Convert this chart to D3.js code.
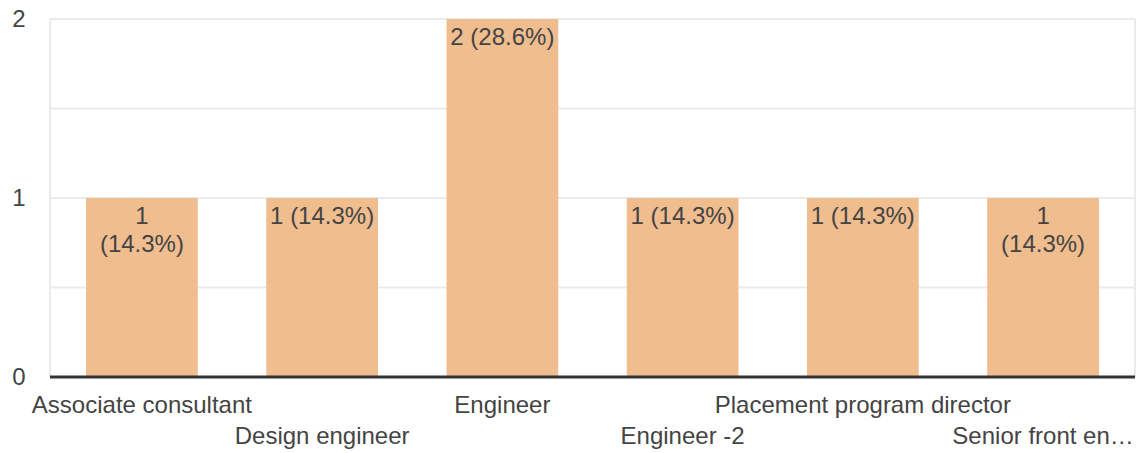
<!DOCTYPE html>
<html>
<head>
<meta charset="utf-8">
<script src="https://cdn.jsdelivr.net/npm/d3@7"></script>
<style>
  body { margin: 0; background: #fff; }
  text { font-family: "Liberation Sans", Arial, sans-serif; fill: #444; }
</style>
</head>
<body>
<div id="chart"></div>
<script>
// categories and counts
const CATEGORIES = ["Associate consultant", "Design engineer", "Engineer", "Engineer -2",
                    "Placement program director", "Senior front en\u2026"];
const COUNTS = [1, 1, 2, 1, 1, 1];
const PERCENTS = ["14.3%", "14.3%", "28.6%", "14.3%", "14.3%", "14.3%"];
// which value labels break onto two lines (as in the source chart)
const LABEL_WRAP = [true, false, false, false, false, true];
const Y_TICKS = [0, 1, 2];
const GRID_TICKS = [0.5, 1, 1.5, 2];

const W = 1138, H = 453;
const M = { left: 50, right: 3, top: 19, bottom: 76 };
const innerW = W - M.left - M.right;
const innerH = H - M.top - M.bottom;
const FS = 24;

const svg = d3.select("#chart").append("svg").attr("width", W).attr("height", H);
const plot = svg.append("g").attr("transform", `translate(${M.left},${M.top})`);

const x = d3.scaleBand().domain(CATEGORIES).range([0, innerW]).paddingInner(0.38).paddingOuter(0.2);
const y = d3.scaleLinear().domain([0, 2]).range([innerH, 0]);

// light grid + frame
plot.selectAll(".grid").data(GRID_TICKS).join("line")
    .attr("x1", 0).attr("x2", innerW)
    .attr("y1", d => y(d)).attr("y2", d => y(d))
    .attr("stroke", "#ebebeb").attr("stroke-width", 2);
plot.append("line").attr("x1", 0).attr("x2", 0).attr("y1", y(2)).attr("y2", innerH)
    .attr("stroke", "#ebebeb").attr("stroke-width", 2);
plot.append("line").attr("x1", innerW).attr("x2", innerW).attr("y1", y(2)).attr("y2", innerH)
    .attr("stroke", "#ebebeb").attr("stroke-width", 2);

// y tick labels
plot.selectAll(".ytick").data(Y_TICKS).join("text")
    .attr("x", -31).attr("y", d => y(d)).attr("dy", "0.35em")
    .attr("text-anchor", "middle").attr("font-size", FS)
    .text(d => d);

// bars
plot.selectAll(".bar").data(COUNTS).join("rect")
    .attr("x", (d, i) => x(CATEGORIES[i])).attr("width", x.bandwidth())
    .attr("y", d => y(d)).attr("height", d => innerH - y(d))
    .attr("fill", "#f0bd8f");

// value labels
const labels = plot.selectAll(".val").data(COUNTS).join("text")
    .attr("text-anchor", "middle").attr("font-size", FS)
    .attr("x", (d, i) => x(CATEGORIES[i]) + x.bandwidth() / 2)
    .attr("y", d => y(d) + 26);
labels.each(function(d, i) {
  const t = d3.select(this);
  const cx = x(CATEGORIES[i]) + x.bandwidth() / 2;
  if (LABEL_WRAP[i]) {
    t.append("tspan").attr("x", cx).text(d);
    t.append("tspan").attr("x", cx).attr("dy", 28).text(`(${PERCENTS[i]})`);
  } else {
    t.text(`${d} (${PERCENTS[i]})`);
  }
});

// baseline
plot.append("line").attr("x1", 0).attr("x2", innerW).attr("y1", innerH).attr("y2", innerH)
    .attr("stroke", "#333").attr("stroke-width", 3);

// x labels, staggered on two rows
plot.selectAll(".xlab").data(CATEGORIES).join("text")
    .attr("text-anchor", "middle").attr("font-size", FS)
    .attr("x", d => x(d) + x.bandwidth() / 2)
    .attr("y", (d, i) => innerH + (i % 2 ? 67 : 36))
    .text(d => d);
</script>
</body>
</html>
